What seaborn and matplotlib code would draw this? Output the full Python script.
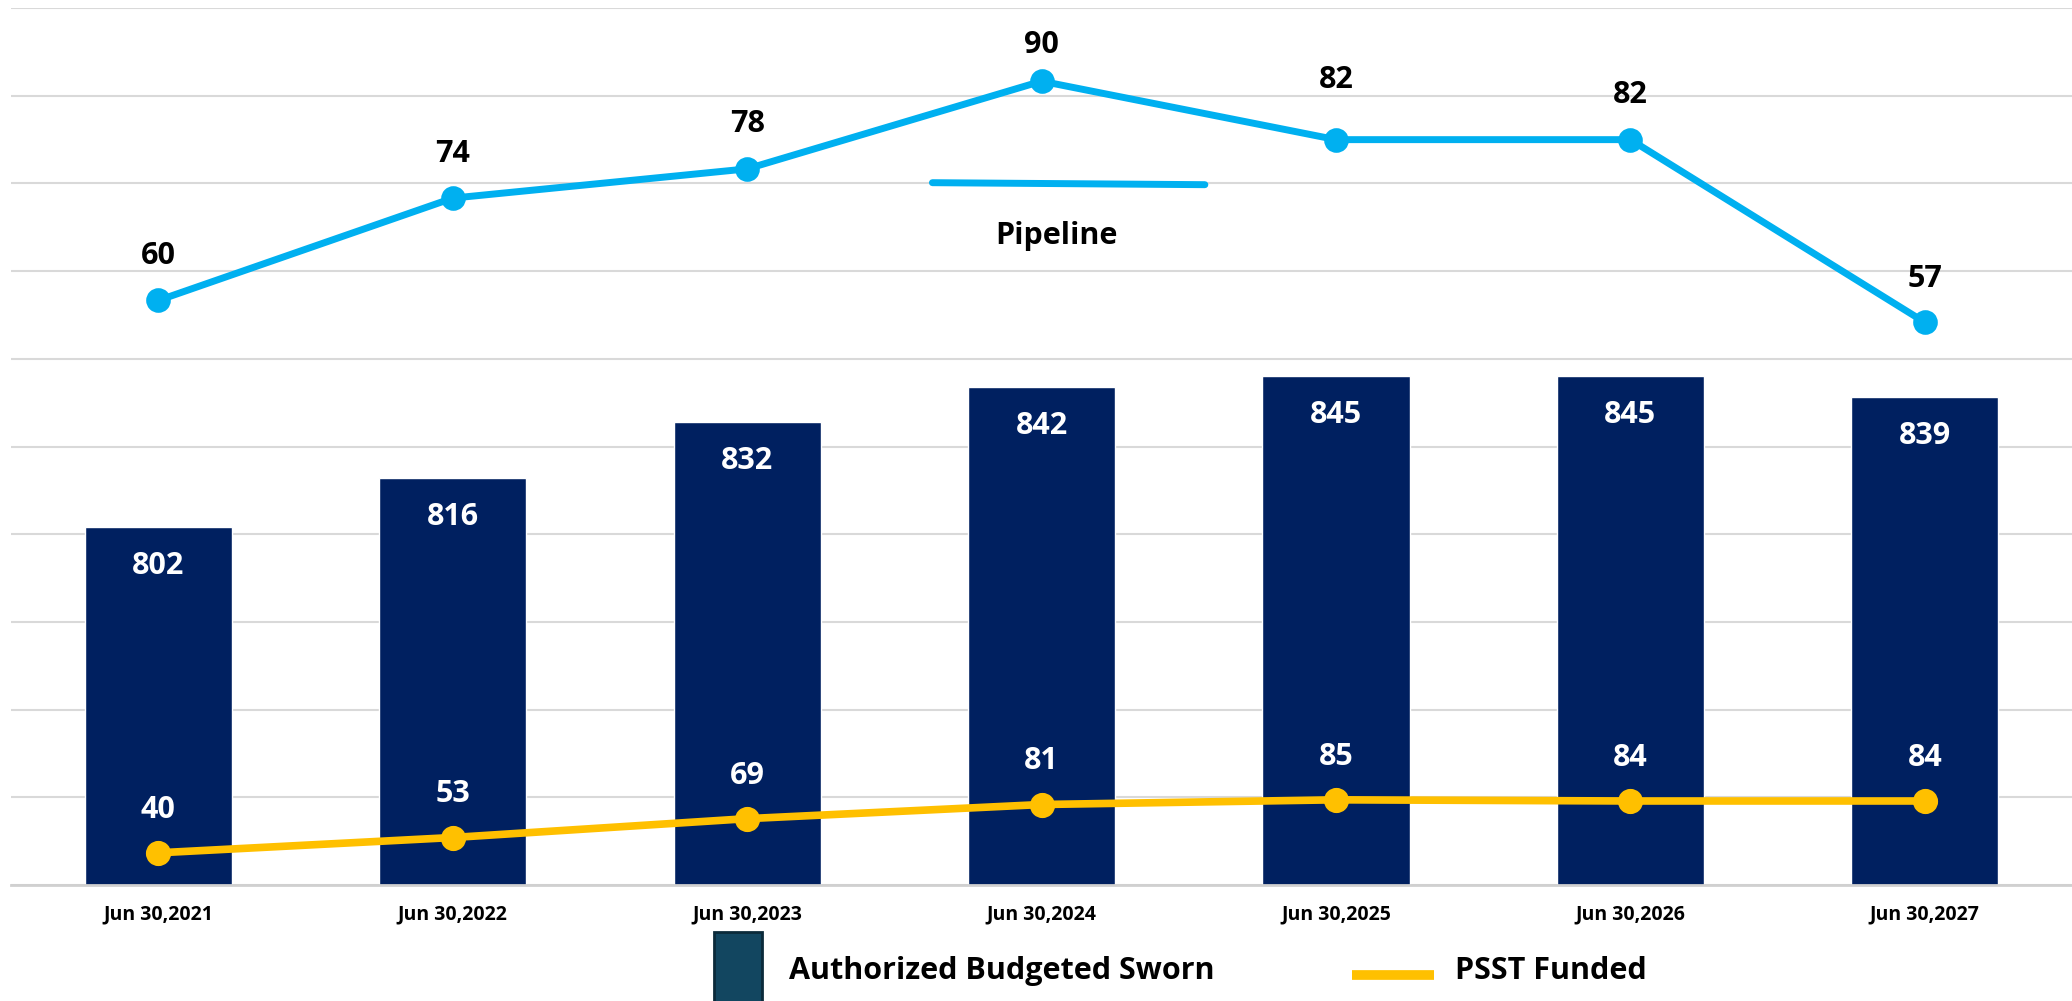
import matplotlib
matplotlib.use("Agg")
import matplotlib.pyplot as plt
import seaborn as sns
import pandas as pd
from matplotlib.lines import Line2D
from matplotlib.patches import Rectangle

# ---- data ----
dates = ["Jun 30,2021", "Jun 30,2022", "Jun 30,2023", "Jun 30,2024",
         "Jun 30,2025", "Jun 30,2026", "Jun 30,2027"]
sworn = [802, 816, 832, 842, 845, 845, 839]
pipeline = [60, 74, 78, 90, 82, 82, 57]
psst = [40, 53, 69, 81, 85, 84, 84]

# label offsets (points) for pipeline labels
pipe_offsets = [32, 32, 32, 26, 43, 32, 31]

df = pd.DataFrame({"date": dates, "sworn": sworn,
                   "pipeline": pipeline, "psst": psst})

NAVY = "#002060"
BLUE = "#00b0f0"
GOLD = "#ffc000"
GRID = "#d9d9d9"

sns.set_theme(style="white")
plt.rcParams['font.family'] = ['Open Sans', 'DejaVu Sans']

fig = plt.figure(figsize=(20.72, 10.01), dpi=100)
ax = fig.add_axes([0.0054, 0.1159, 0.9946, 0.876])

sns.barplot(data=df, x="date", y="sworn", color=NAVY, width=0.5,
            saturation=1, ax=ax, errorbar=None)
ax.set_ylim(700, 950)
ax.set_yticks(range(700, 951, 25))
ax.set_yticklabels([])
ax.yaxis.grid(True, color=GRID, lw=1.5)
ax.set_axisbelow(True)
ax.tick_params(axis="y", length=0)
ax.tick_params(axis="x", length=0, pad=14)
ax.set_xlabel("")
ax.set_ylabel("")
for lab in ax.get_xticklabels():
    lab.set_fontsize(14)
    lab.set_fontweight("bold")
    lab.set_color("black")
for s in ["top", "left", "right"]:
    ax.spines[s].set_visible(False)
ax.spines["bottom"].set_color("#d0d0d0")
ax.spines["bottom"].set_linewidth(2)

for i, v in enumerate(sworn):
    ax.annotate(str(v), (i, v), xytext=(0, -28), textcoords="offset points",
                ha="center", va="center", fontsize=22, fontweight="bold",
                color="white")

# pipeline on secondary axis
ax2 = ax.twinx()
sns.pointplot(data=df, x="date", y="pipeline", color=BLUE, markers="o",
              markersize=14, linewidth=5, ax=ax2, errorbar=None)
ax2.set_ylim(-20, 100)
for i, v in enumerate(pipeline):
    ax2.annotate(str(v), (i, v), xytext=(0, pipe_offsets[i]),
                 textcoords="offset points", ha="center", va="center",
                 fontsize=22, fontweight="bold", color="black")

# PSST on third axis
ax3 = ax.twinx()
sns.pointplot(data=df, x="date", y="psst", color=GOLD, markers="o",
              markersize=14, linewidth=5.5, ax=ax3, errorbar=None)
ax3.set_ylim(12.7, 757)
for i, v in enumerate(psst):
    ax3.annotate(str(v), (i, v), xytext=(0, 31), textcoords="offset points",
                 ha="center", va="center", fontsize=22, fontweight="bold",
                 color="white")

for a in (ax2, ax3):
    a.grid(False)
    a.set_yticks([])
    a.set_ylabel("")
    a.set_xlabel("")
    for s in a.spines.values():
        s.set_visible(False)
    a.tick_params(axis="x", length=0)
ax.set_xlim(-0.5, 6.5)
ax2.set_xlim(-0.5, 6.5)
ax3.set_xlim(-0.5, 6.5)

# "Pipeline" in-plot legend
fig.add_artist(Line2D([0.450, 0.5815], [0.8175, 0.8155], color=BLUE, lw=5,
                      transform=fig.transFigure))
fig.text(0.5097, 0.764, "Pipeline", ha="center", va="center", fontsize=22,
         fontweight="bold", color="black")

# bottom legend
fig.add_artist(Rectangle((714 / 2072, -0.01), (762 - 714) / 2072, 0.079,
                         facecolor="#124660", edgecolor="#0b2a3a", lw=2,
                         transform=fig.transFigure))
fig.text(789 / 2072, 0.030, "Authorized Budgeted Sworn", ha="left",
         va="center", fontsize=22, fontweight="bold", color="black")
fig.add_artist(Line2D([1352 / 2072, 1434 / 2072], [0.026, 0.026], color=GOLD,
                      lw=7, solid_capstyle="butt", transform=fig.transFigure))
fig.text(1455 / 2072, 0.030, "PSST Funded", ha="left", va="center",
         fontsize=22, fontweight="bold", color="black")

fig.savefig("out.png", dpi=100, facecolor="white")
